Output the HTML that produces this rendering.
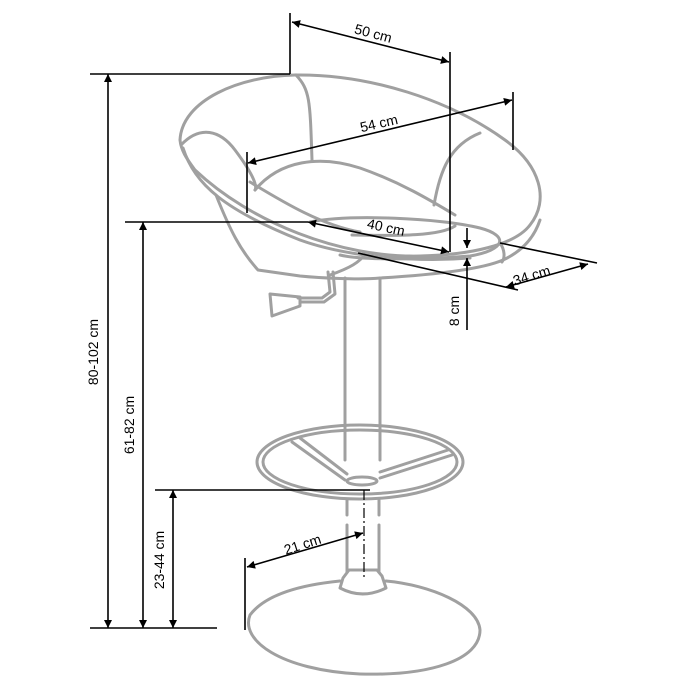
<!DOCTYPE html>
<html><head><style>html,body{margin:0;padding:0;background:#fff}svg{display:block}</style></head><body>
<svg width="700" height="700" viewBox="0 0 700 700" xmlns="http://www.w3.org/2000/svg" font-family="Liberation Sans, sans-serif" font-size="14">
<defs>
<marker id="a" viewBox="0 0 10 10" refX="10" refY="5" markerWidth="11" markerHeight="8" markerUnits="userSpaceOnUse" orient="auto-start-reverse"><path d="M0,0 L10,5 L0,10z" fill="#000"/></marker>
</defs>
<g fill="none" stroke="#a0a0a0" stroke-width="3" stroke-linejoin="round" stroke-linecap="round">
<path d="M180,140 C182,100 240,76 295,75 C370,74 450,100 505,140 C540,165 550,200 530,225 C515,245 470,255 420,256 C340,258 250,222 195,170 C186,158 181,150 180,140 Z"/>
<path d="M181,145 C200,125 220,130 235,150 C250,170 258,185 255,190"/>
<path d="M183,148 C195,185 225,210 300,240 C350,258 420,262 470,258"/>
<path d="M296,75 C310,90 310,100 312,160"/>
<path d="M255,190 C280,160 320,155 360,168 C400,182 430,200 455,215"/>
<path d="M434,205 C440,170 450,145 480,133"/>
<path d="M250,182 C280,200 320,225 360,232"/>
<path d="M310,222 C350,214 440,218 480,228 C510,236 505,250 470,256 C420,260 360,260 340,255"/>
<path d="M352,235 C400,236 440,236 455,226"/>
<path d="M216,195 C230,230 240,250 258,270 L300,276 C320,278 360,280 380,278 C430,275 480,270 503,260 C525,250 535,235 540,220"/>
<path d="M500,243 C505,250 505,258 502,262"/>
<path d="M330,275 C350,268 360,262 365,254"/>
<path d="M328,272 L330,292 L322,298 L298,298"/>
<path d="M333,272 L335,294 L324,302 L300,302"/>
<path d="M270,294 L300,297 L300,306 L272,316 Z"/>
<path d="M345,278 L345,460 M380,278 L380,460"/>
<path d="M347,500 L347,515 M379,500 L379,515 M347,525 L347,572 M379,525 L379,572"/>
<ellipse cx="360" cy="462" rx="103" ry="37"/>
<ellipse cx="360" cy="462" rx="97" ry="32"/>
<path d="M292,442 L345,480 M300,438 L347,474"/>
<path d="M452,455 L380,478 M448,450 L380,472"/>
<ellipse cx="362" cy="481" rx="15" ry="4"/>
<path d="M349,570 L343,578 L340,588 C355,596 370,596 386,588 L382,576 L377,570 Z"/>
<path d="M340,581 C300,585 265,595 250,615 C240,640 280,670 360,674 C430,676 480,660 480,630 C478,605 430,585 386,581"/>
</g>
<g stroke="#000" stroke-width="1.6" fill="none">
<path d="M290,13 L290,74 M450,52 L450,252"/>
<path d="M292,22 L449,62" marker-start="url(#a)" marker-end="url(#a)"/>
<path d="M247,152 L247,213 M513,92 L513,150"/>
<path d="M248,163 L512,100" marker-start="url(#a)" marker-end="url(#a)"/>
<path d="M308,222 L449,252" marker-start="url(#a)" marker-end="url(#a)"/>
<path d="M358,253 L518,290 M500,243 L597,263"/>
<path d="M506,287 L588,264" marker-start="url(#a)" marker-end="url(#a)"/>
<path d="M467,228 L467,248" marker-end="url(#a)"/>
<path d="M467,330 L467,258" marker-end="url(#a)"/>
<path d="M90,74 L290,74 M125,222 L308,222 M155,490 L370,490 M90,628 L217,628"/>
<path d="M108,74 L108,628" marker-start="url(#a)" marker-end="url(#a)"/>
<path d="M143,222 L143,628" marker-start="url(#a)" marker-end="url(#a)"/>
<path d="M173,490 L173,628" marker-start="url(#a)" marker-end="url(#a)"/>
<path d="M245,558 L245,630"/>
<path d="M247,567 L363,533" marker-start="url(#a)" marker-end="url(#a)"/>
<path d="M364,490 L364,580" stroke-dasharray="10,3,2,3" stroke-width="1.2"/>
</g>
<g fill="#000">
<text transform="translate(372,38) rotate(15)" text-anchor="middle">50 cm</text>
<text transform="translate(380,128) rotate(-13)" text-anchor="middle">54 cm</text>
<text transform="translate(385,232) rotate(12)" text-anchor="middle">40 cm</text>
<text transform="translate(533,280) rotate(-17)" text-anchor="middle">34 cm</text>
<text transform="translate(459,311) rotate(-90)" text-anchor="middle">8 cm</text>
<text transform="translate(98,352) rotate(-90)" text-anchor="middle">80-102 cm</text>
<text transform="translate(134,425) rotate(-90)" text-anchor="middle">61-82 cm</text>
<text transform="translate(164,560) rotate(-90)" text-anchor="middle">23-44 cm</text>
<text transform="translate(304,549) rotate(-18)" text-anchor="middle">21 cm</text>
</g>
</svg>
</body></html>
